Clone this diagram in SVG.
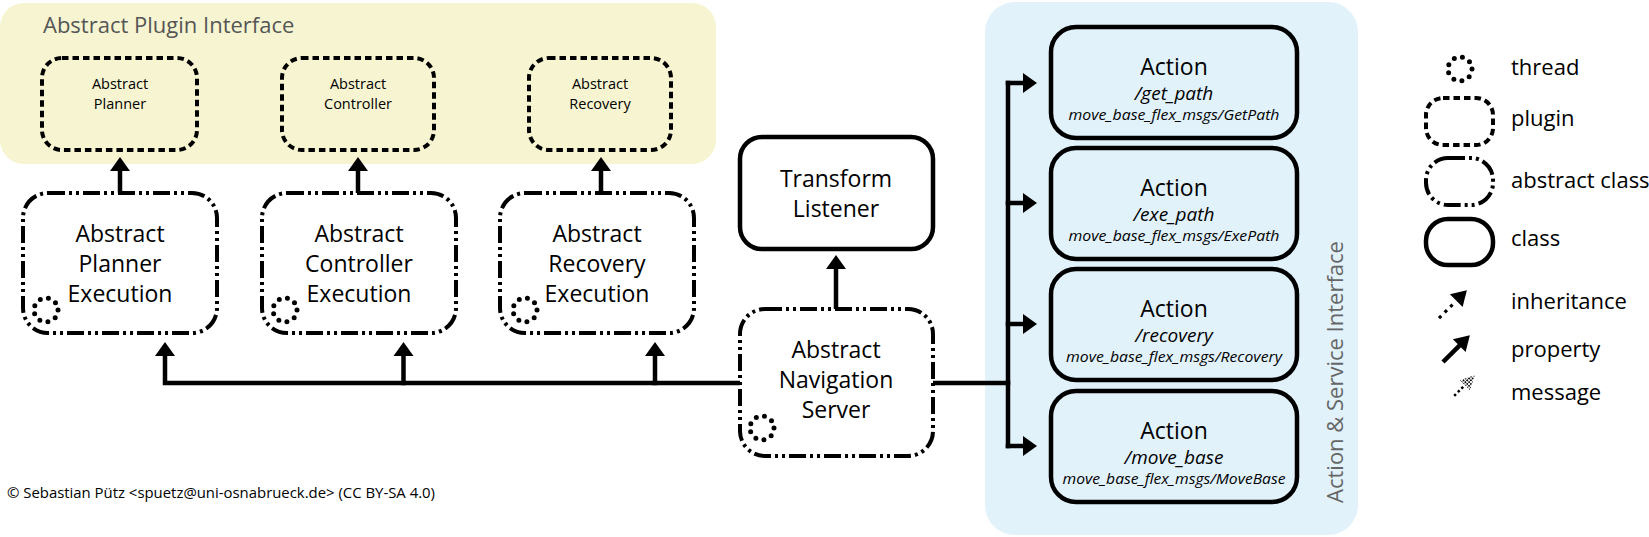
<svg xmlns="http://www.w3.org/2000/svg" width="1649" height="537" viewBox="0 0 1649 537">
<style>
text{font-family:"Open Sans","Liberation Sans",sans-serif;fill:#000}
.t23{font-size:23px;text-anchor:middle}
.t14{font-size:14.5px;text-anchor:middle}
.path{font-size:19px;font-style:italic;text-anchor:middle}
.msg{font-size:14px;font-style:italic;text-anchor:middle}
.leg{font-size:22px}
.plugin{fill:none;stroke:#000;stroke-width:4;stroke-dasharray:6.5 4}
.abstract{fill:#fff;stroke:#000;stroke-width:4;stroke-dasharray:17 4 3 4 3 4}
.class{fill:#fff;stroke:#000;stroke-width:4.5}
.action{fill:#e1f2fb;stroke:#000;stroke-width:4.5}
.thread{fill:none;stroke:#000;stroke-width:5;stroke-linecap:round;stroke-dasharray:0 8.38}
.conn{fill:none;stroke:#000;stroke-width:4.5;stroke-linecap:square}
.arr{marker-end:url(#ah)}
</style>
<defs>
<marker id="ah" markerUnits="userSpaceOnUse" viewBox="0 0 14 20" markerWidth="14" markerHeight="20" refX="0" refY="10" orient="auto" overflow="visible">
<path d="M0,0 L14,10 L0,20 z" fill="#000"/>
</marker>
<pattern id="stip" width="2.6" height="2.6" patternUnits="userSpaceOnUse">
<rect width="1.7" height="1.7" fill="#000"/>
</pattern>
</defs>

<g id="panels">
<rect x="0" y="3" width="716" height="161" rx="24" fill="#f7f5d1"/>
<text x="43" y="33" style="font-size:22px;fill:#555">Abstract Plugin Interface</text>
<rect x="985" y="2" width="373" height="533" rx="30" fill="#e1f2fb"/>
<text transform="translate(1343,372) rotate(-90)" style="font-size:22px;fill:#666;text-anchor:middle">Action &amp; Service Interface</text>
</g>

<g id="connectors">
<path class="conn arr" d="M120,193 V171"/>
<path class="conn arr" d="M358,193 V171"/>
<path class="conn arr" d="M601,193 V171"/>
<path class="conn arr" d="M740,383 H165 V356"/>
<path class="conn arr" d="M403.5,383 V356"/>
<path class="conn arr" d="M655,383 V356"/>
<path class="conn arr" d="M836,309 V269"/>
<path class="conn" d="M933,383 H1008"/>
<path class="conn" d="M1008,83 V446"/>
<path class="conn arr" d="M1008,83 H1023"/>
<path class="conn arr" d="M1008,203 H1023"/>
<path class="conn arr" d="M1008,324 H1023"/>
<path class="conn arr" d="M1008,446 H1023"/>
</g>

<g id="plugin-planner">
<rect class="plugin" x="42" y="58" width="155" height="92" rx="20"/>
<text class="t14" x="120" y="89">Abstract</text>
<text class="t14" x="120" y="109">Planner</text>
</g>
<g id="plugin-controller">
<rect class="plugin" x="282" y="58" width="152" height="92" rx="20"/>
<text class="t14" x="358" y="89">Abstract</text>
<text class="t14" x="358" y="109">Controller</text>
</g>
<g id="plugin-recovery">
<rect class="plugin" x="529" y="58" width="142" height="92" rx="20"/>
<text class="t14" x="600" y="89">Abstract</text>
<text class="t14" x="600" y="109">Recovery</text>
</g>

<g id="planner-execution">
<rect class="abstract" x="23" y="193" width="194" height="140" rx="25"/>
<text class="t23" x="120" y="242">Abstract</text>
<text class="t23" x="120" y="272">Planner</text>
<text class="t23" x="120" y="302">Execution</text>
<circle class="thread" cx="46" cy="310" r="12"/>
</g>
<g id="controller-execution">
<rect class="abstract" x="262" y="193" width="194" height="140" rx="25"/>
<text class="t23" x="359" y="242">Abstract</text>
<text class="t23" x="359" y="272">Controller</text>
<text class="t23" x="359" y="302">Execution</text>
<circle class="thread" cx="285" cy="310" r="12"/>
</g>
<g id="recovery-execution">
<rect class="abstract" x="500" y="193" width="194" height="140" rx="25"/>
<text class="t23" x="597" y="242">Abstract</text>
<text class="t23" x="597" y="272">Recovery</text>
<text class="t23" x="597" y="302">Execution</text>
<circle class="thread" cx="525" cy="310" r="12"/>
</g>

<g id="transform-listener">
<rect class="class" x="740" y="137" width="193" height="112" rx="22"/>
<text class="t23" x="836" y="187">Transform</text>
<text class="t23" x="836" y="217">Listener</text>
</g>

<g id="navigation-server">
<rect class="abstract" x="740" y="309" width="193" height="147" rx="25"/>
<text class="t23" x="836" y="358">Abstract</text>
<text class="t23" x="836" y="388">Navigation</text>
<text class="t23" x="836" y="418">Server</text>
<circle class="thread" cx="762" cy="428" r="12"/>
</g>

<g id="action-get-path">
<rect class="action" x="1051" y="27" width="246" height="111" rx="25"/>
<text class="t23" x="1174" y="75">Action</text>
<text class="path" x="1174" y="100">/get_path</text>
<text class="msg" x="1174" y="120" textLength="211" lengthAdjust="spacingAndGlyphs">move_base_flex_msgs/GetPath</text>
</g>
<g id="action-exe-path">
<rect class="action" x="1051" y="148" width="246" height="111" rx="25"/>
<text class="t23" x="1174" y="196">Action</text>
<text class="path" x="1174" y="221">/exe_path</text>
<text class="msg" x="1174" y="241" textLength="211" lengthAdjust="spacingAndGlyphs">move_base_flex_msgs/ExePath</text>
</g>
<g id="action-recovery">
<rect class="action" x="1051" y="269" width="246" height="111" rx="25"/>
<text class="t23" x="1174" y="317">Action</text>
<text class="path" x="1174" y="342">/recovery</text>
<text class="msg" x="1174" y="362" textLength="216" lengthAdjust="spacingAndGlyphs">move_base_flex_msgs/Recovery</text>
</g>
<g id="action-move-base">
<rect class="action" x="1051" y="391" width="246" height="111" rx="25"/>
<text class="t23" x="1174" y="439">Action</text>
<text class="path" x="1174" y="464">/move_base</text>
<text class="msg" x="1174" y="484" textLength="223" lengthAdjust="spacingAndGlyphs">move_base_flex_msgs/MoveBase</text>
</g>

<g id="legend">
<circle class="thread" cx="1460" cy="69" r="12"/>
<text class="leg" x="1511" y="75">thread</text>
<rect class="plugin" x="1426" y="98" width="67" height="47" rx="17"/>
<text class="leg" x="1511" y="126">plugin</text>
<rect class="abstract" x="1426" y="158" width="67" height="47" rx="22"/>
<text class="leg" x="1511" y="188">abstract class</text>
<rect class="class" x="1426" y="219" width="67" height="46" rx="22"/>
<text class="leg" x="1511" y="246">class</text>
<g transform="translate(1440,317) rotate(-45)">
<rect x="-1.5" y="-1.5" width="3.2" height="3.2"/>
<rect x="6.5" y="-1.5" width="3.2" height="3.2"/>
<rect x="14.5" y="-1.5" width="3.2" height="3.2"/>
<path d="M23,-9 L38,0 L23,9 z"/>
</g>
<text class="leg" x="1511" y="309">inheritance</text>
<g transform="translate(1443,362) rotate(-45)">
<path d="M0,0 H25" stroke="#000" stroke-width="4.5"/>
<path d="M23,-9 L38,0 L23,9 z"/>
</g>
<text class="leg" x="1511" y="357">property</text>
<g transform="translate(1455,395) rotate(-45)">
<rect x="-1.2" y="-1.2" width="2.5" height="2.5"/>
<rect x="4" y="-1.2" width="2.5" height="2.5"/>
<rect x="9" y="-1.2" width="2.5" height="2.5"/>
<path d="M14,-7 L28,0 L14,7 z" fill="url(#stip)"/>
</g>
<text class="leg" x="1511" y="400">message</text>
</g>

<text x="7" y="498" style="font-size:15px" textLength="428" lengthAdjust="spacingAndGlyphs">© Sebastian Pütz &lt;spuetz@uni-osnabrueck.de&gt; (CC BY-SA 4.0)</text>
</svg>
